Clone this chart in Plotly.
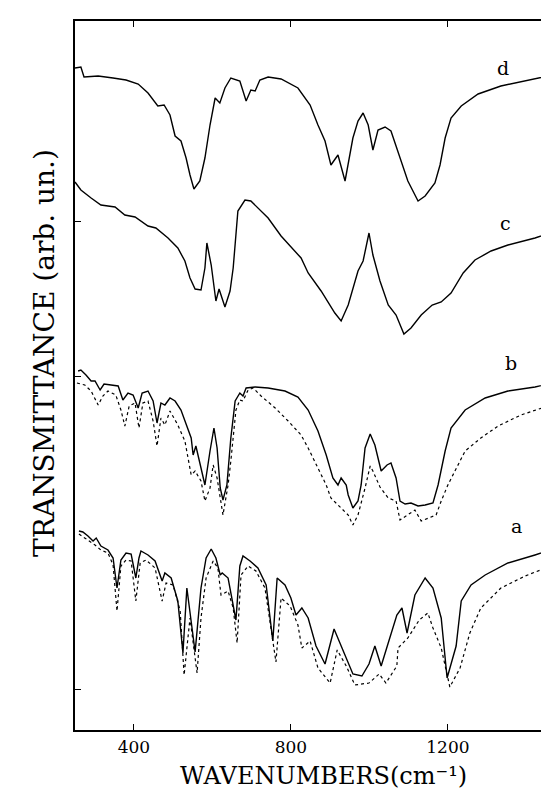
import plotly.graph_objects as go

# ---- data (wavenumber in cm^-1, transmittance in arbitrary units, curves offset) ----
d_wn = [250, 265, 273, 309, 347, 380, 411, 436, 461, 477, 492, 505, 520, 533, 543, 553, 568, 581, 594, 607,
        619, 632, 647, 670, 686, 698, 709, 721, 742, 775, 818, 849, 869, 887, 902, 920, 938, 958, 971, 984,
        997, 1009, 1022, 1040, 1055, 1073, 1098, 1124, 1142, 1167, 1180, 1193, 1208, 1234, 1277, 1335, 1404, 1478]
d_t = [662, 663, 653, 654, 652, 650, 646, 637, 624, 625, 615, 594, 589, 572, 555, 541, 549, 572, 605, 632,
       627, 642, 652, 649, 629, 640, 639, 650, 653, 651, 642, 625, 605, 589, 565, 575, 549, 592, 609, 617,
       605, 580, 600, 603, 599, 579, 549, 529, 534, 547, 565, 592, 612, 624, 636, 644, 650, 656]

c_wn = [250, 265, 291, 316, 352, 377, 403, 436, 456, 487, 512, 530, 543, 556, 571, 581, 586, 597, 609, 617,
        632, 645, 653, 665, 683, 698, 742, 775, 826, 844, 877, 912, 928, 946, 971, 984, 999, 1009, 1027, 1048,
        1068, 1088, 1106, 1132, 1160, 1183, 1208, 1239, 1269, 1310, 1353, 1422, 1478]
c_t = [548, 540, 532, 525, 523, 515, 513, 504, 502, 492, 482, 469, 452, 441, 440, 462, 487, 465, 429, 441,
       423, 439, 462, 519, 530, 529, 512, 494, 472, 457, 439, 417, 409, 425, 459, 469, 497, 475, 449, 425,
       415, 396, 402, 415, 425, 428, 437, 457, 470, 479, 485, 492, 499]

b_wn = [258, 265, 278, 291, 301, 314, 324, 342, 360, 372, 385, 398, 411, 421, 436, 449, 459, 469, 479, 492,
        505, 520, 533, 546, 551, 558, 571, 581, 594, 604, 612, 620, 627, 637, 647, 658, 670, 678, 686, 709,
        742, 785, 818, 844, 869, 890, 907, 920, 928, 941, 946, 958, 971, 979, 989, 1002, 1014, 1030, 1045, 1055,
        1068, 1078, 1091, 1106, 1124, 1142, 1162, 1175, 1193, 1208, 1244, 1295, 1353, 1422, 1478]
b_t = [359, 360, 355, 349, 349, 340, 346, 345, 344, 330, 337, 335, 322, 337, 339, 329, 307, 327, 325, 332,
       329, 320, 305, 292, 275, 284, 262, 245, 279, 302, 282, 242, 230, 245, 292, 329, 337, 334, 342, 343,
       342, 339, 333, 320, 299, 275, 252, 245, 252, 245, 235, 222, 229, 245, 282, 296, 285, 259, 265, 267,
       252, 229, 226, 227, 224, 225, 227, 245, 279, 302, 320, 332, 339, 343, 348]

b2_wn = [255, 275, 291, 309, 321, 334, 354, 367, 377, 388, 403, 413, 423, 436, 449, 459, 469, 479, 492, 512,
         530, 546, 556, 571, 581, 594, 602, 612, 627, 640, 647, 660, 670, 678, 691, 704, 724, 760, 793, 826,
         844, 869, 890, 902, 928, 946, 958, 971, 989, 1002, 1009, 1027, 1048, 1068, 1078, 1098, 1116, 1132, 1149, 1170,
         1183, 1200, 1218, 1244, 1284, 1328, 1386, 1437, 1478]
b2_t = [347, 345, 339, 325, 334, 339, 335, 320, 304, 324, 327, 302, 327, 329, 309, 284, 312, 305, 319, 305,
        289, 255, 259, 249, 229, 242, 265, 252, 215, 245, 269, 320, 330, 329, 340, 342, 334, 322, 309, 295,
        282, 262, 245, 232, 222, 215, 205, 215, 242, 264, 259, 243, 232, 229, 210, 215, 220, 209, 212, 215,
        229, 245, 259, 279, 292, 304, 315, 322, 327]

a_wn = [260, 270, 283, 296, 304, 316, 334, 347, 357, 367, 380, 393, 405, 413, 418, 436, 454, 472, 479, 495,
        512, 525, 535, 556, 571, 584, 597, 609, 620, 625, 640, 650, 660, 670, 678, 696, 716, 737, 754, 765,
        785, 800, 813, 828, 844, 864, 887, 910, 928, 958, 981, 999, 1014, 1030, 1048, 1070, 1083, 1096, 1116, 1142,
        1162, 1183, 1198, 1221, 1234, 1259, 1295, 1353, 1422, 1478]
a_t = [199, 198, 194, 189, 192, 184, 180, 172, 142, 170, 177, 176, 152, 172, 179, 175, 169, 149, 157, 152,
       129, 77, 142, 78, 142, 172, 181, 172, 155, 157, 152, 129, 110, 164, 174, 169, 162, 145, 89, 152,
       145, 132, 115, 122, 112, 84, 66, 101, 84, 56, 54, 66, 84, 64, 87, 115, 122, 97, 135, 152,
       142, 112, 52, 84, 129, 145, 155, 167, 175, 182]

a2_wn = [260, 283, 301, 316, 334, 347, 357, 367, 380, 393, 405, 416, 431, 454, 472, 482, 500, 518, 528, 543,
         561, 571, 584, 602, 614, 622, 640, 653, 663, 673, 691, 711, 734, 762, 775, 798, 818, 828, 849, 869,
         900, 918, 941, 963, 999, 1025, 1042, 1070, 1073, 1098, 1127, 1149, 1162, 1183, 1205, 1231, 1256, 1284, 1335, 1397,
         1455, 1478]
a2_t = [196, 190, 185, 180, 177, 165, 119, 164, 170, 169, 129, 167, 170, 162, 129, 147, 145, 119, 55, 112,
        57, 112, 152, 169, 162, 135, 139, 122, 87, 155, 164, 159, 142, 68, 132, 124, 105, 82, 89, 62,
        47, 80, 64, 45, 47, 56, 47, 64, 82, 92, 110, 117, 102, 82, 43, 62, 97, 122, 142, 154,
        163, 165]

curve_labels = ["d", "c", "b", "a"]
label_wn = [1341, 1346, 1361, 1376]
label_t = [662, 507, 367, 204]

x_ticks = [400, 800, 1200]
y_ticks = [41, 354, 509]

SERIF = "DejaVu Serif"

fig = go.Figure()
solid = dict(color="black", width=1.4)
dotted = dict(color="black", width=1.2, dash="dot")
for xs, ys, ln in [(a2_wn, a2_t, dotted), (b2_wn, b2_t, dotted),
                   (a_wn, a_t, solid), (b_wn, b_t, solid),
                   (c_wn, c_t, solid), (d_wn, d_t, solid)]:
    fig.add_trace(go.Scatter(x=xs, y=ys, mode="lines", line=ln, showlegend=False,
                             hoverinfo="skip"))

for lab, lx, ly in zip(curve_labels, label_wn, label_t):
    fig.add_annotation(x=lx, y=ly, text=lab, showarrow=False,
                       font=dict(family=SERIF, size=19, color="black"))

fig.add_annotation(xref="paper", yref="paper", x=0.515, y=-0.065,
                   text="WAVENUMBERS(cm\u207b\u00b9)", showarrow=False,
                   font=dict(family=SERIF, size=24, color="black"),
                   xanchor="center", yanchor="middle")
fig.add_annotation(xref="paper", yref="paper", x=-0.062, y=0.532,
                   text="TRANSMITTANCE (arb. un.)", showarrow=False, textangle=-90,
                   font=dict(family=SERIF, size=28, color="black"),
                   xanchor="center", yanchor="middle")

fig.update_layout(
    width=549, height=791,
    margin=dict(l=67, r=0, t=13, b=69),
    paper_bgcolor="white", plot_bgcolor="white",
    font=dict(family=SERIF, color="black"),
    xaxis=dict(range=[250, 1478], tickvals=x_ticks, ticks="inside", ticklen=6,
               tickcolor="black", tickwidth=1, showline=True, linecolor="black",
               linewidth=1.5, mirror="ticks", showgrid=False, zeroline=False,
               tickfont=dict(family=SERIF, size=17, color="black"),
               ticklabelstandoff=1),
    yaxis=dict(range=[0, 709], tickvals=y_ticks, showticklabels=False,
               ticks="inside", ticklen=6, tickcolor="black", tickwidth=1,
               showline=True, linecolor="black", linewidth=1.5, mirror=False,
               showgrid=False, zeroline=False),
)

fig.write_html("out.html")
